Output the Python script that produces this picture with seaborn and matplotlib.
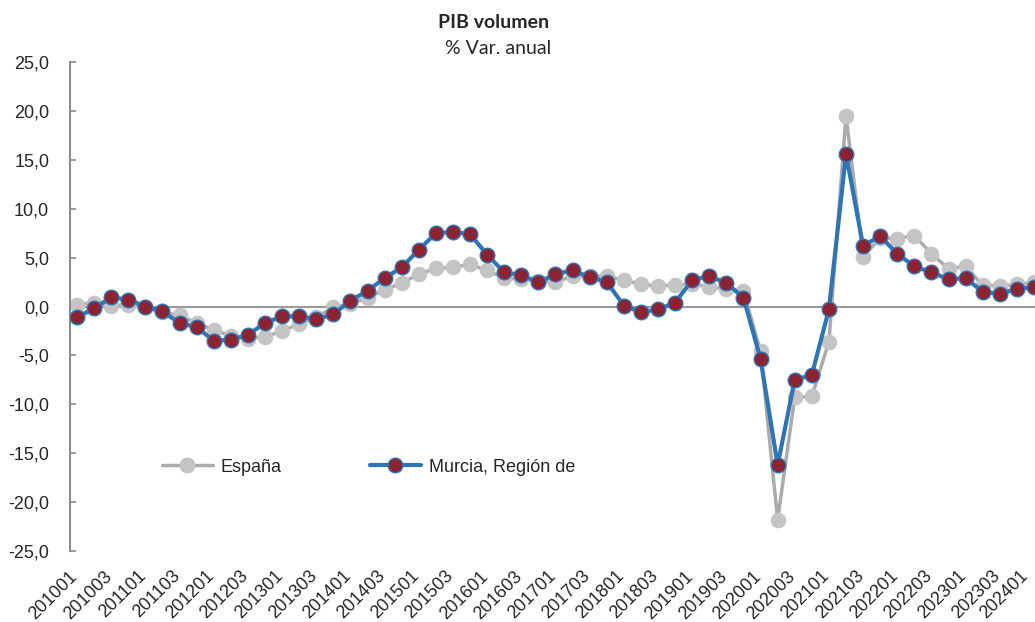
import matplotlib
matplotlib.use("Agg")
import matplotlib.pyplot as plt
from matplotlib.lines import Line2D
from matplotlib.transforms import ScaledTranslation
import seaborn as sns
import numpy as np

# Quarterly GDP volume, % annual change (2010Q1 - 2024Q1)
years = list(range(2010, 2025))
quarters = ["01", "02", "03", "04"]
periods = [f"{y}{q}" for y in years for q in quarters][:57]

espana = [0.2, 0.4, 0.1, 0.2, -0.1, -0.6, -0.9, -1.7, -2.4, -3.0,
          -3.3, -3.1, -2.5, -1.8, -1.1, -0.1, 0.3, 0.9, 1.7, 2.4,
          3.3, 3.9, 4.0, 4.3, 3.7, 2.9, 2.8, 2.6, 2.5, 3.1,
          3.1, 3.1, 2.7, 2.25, 2.1, 2.2, 2.3, 2.0, 1.8, 1.6,
          -4.6, -21.8, -9.3, -9.2, -3.6, 19.5, 5.1, 7.0, 6.95, 7.25,
          5.4, 3.85, 4.1, 2.15, 2.1, 2.25, 2.5]

murcia = [-1.1, -0.2, 0.95, 0.7, 0.0, -0.5, -1.7, -2.1, -3.5, -3.4,
          -2.9, -1.7, -1.0, -1.0, -1.3, -0.8, 0.6, 1.6, 2.9, 4.0,
          5.8, 7.5, 7.6, 7.4, 5.3, 3.5, 3.2, 2.5, 3.3, 3.7,
          3.0, 2.5, 0.1, -0.6, -0.3, 0.4, 2.7, 3.1, 2.4, 0.9,
          -5.35, -16.2, -7.5, -7.0, -0.3, 15.6, 6.2, 7.2, 5.4, 4.1,
          3.5, 2.8, 2.9, 1.5, 1.3, 1.8, 2.0]

grey_line = "#ABABAB"
grey_mark = "#C4C4C4"
blue = "#2E75B6"
red = "#8B2332"

sns.set_style("white")
plt.rcParams['font.family'] = ['Liberation Sans', 'DejaVu Sans']

W, H = 1035, 622
fig = plt.figure(figsize=(W / 100, H / 100), dpi=100)
ax = fig.add_axes([70 / W, 1 - 551 / H, 965 / W, (551 - 62) / H])

idx = np.arange(len(periods))

ax.axhline(0, color="#9A9A9A", lw=1.5, zorder=1)

sns.lineplot(x=idx, y=espana, ax=ax, color=grey_line, lw=2.5,
             marker="o", markersize=10.5, markerfacecolor=grey_mark,
             markeredgecolor=grey_mark, zorder=2)
sns.lineplot(x=idx, y=murcia, ax=ax, color=blue, lw=3,
             marker="o", markersize=10.5, markerfacecolor=red,
             markeredgecolor=blue, markeredgewidth=1, zorder=3)

ax.set_xlim(-0.41, 56.06)
ax.set_ylim(-25, 25)
yt = np.arange(-25, 26, 5)
ax.set_yticks(yt)
ax.set_yticklabels([f"{v:.1f}".replace(".", ",") for v in yt], fontsize=13)
ax.set_xticks(idx[::2])
ax.set_xticklabels(periods[::2], rotation=45, ha="right", va="top",
                   rotation_mode="anchor", fontsize=13)
ax.tick_params(axis="x", length=0, pad=12)
ax.tick_params(axis="y", direction="in", length=4, width=1.2,
               color="#8C8C8C", pad=15, left=True)
xlabels = ax.get_xticklabels()
for i, lab in enumerate(xlabels):
    dx = -14 if i == len(xlabels) - 1 else -8
    lab.set_transform(lab.get_transform()
                      + ScaledTranslation(dx / 100, 0, fig.dpi_scale_trans))

for s in ["top", "right", "bottom"]:
    ax.spines[s].set_visible(False)
ax.spines["left"].set_color("#8C8C8C")
ax.spines["left"].set_linewidth(1.5)
ax.set_xlabel("")
ax.set_ylabel("")

fig.text(494 / W, 1 - 22 / H, "PIB volumen", ha="center", va="center",
         fontsize=14, fontweight="bold", family=["Lato", "DejaVu Sans"])
fig.text(498 / W, 1 - 49 / H, "% Var. anual", ha="center", va="center",
         fontsize=14, family=["Lato", "DejaVu Sans"])

handles = [
    Line2D([], [], color=grey_line, lw=2.5, marker="o", markersize=10.5,
           markerfacecolor=grey_mark, markeredgecolor=grey_mark),
    Line2D([], [], color=blue, lw=3, marker="o", markersize=10.5,
           markerfacecolor=red, markeredgecolor=blue, markeredgewidth=1),
]
fig.legend(handles, ["España", "Murcia, Región de"], loc="center left",
           bbox_to_anchor=(162 / W, 1 - 467 / H), ncol=2, frameon=False,
           fontsize=13, handlelength=2.8, handletextpad=0.45,
           columnspacing=4.9, borderpad=0, borderaxespad=0)

fig.savefig("out.png", dpi=100)
